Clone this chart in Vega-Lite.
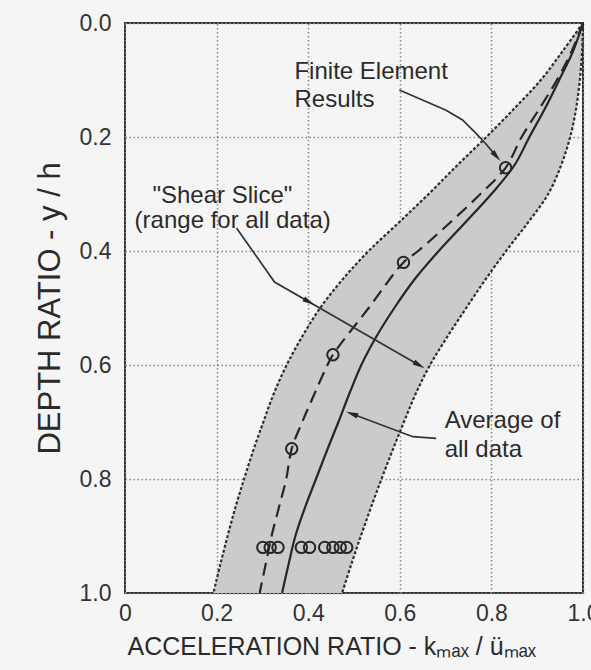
{
  "$schema": "https://vega.github.io/schema/vega-lite/v6.json",
  "width": 458,
  "height": 570,
  "autosize": "none",
  "padding": {"left": 125, "top": 23, "right": 8, "bottom": 77},
  "background": "#f5f5f5",
  "config": {
    "font": "Liberation Sans",
    "view": {"stroke": "#333333", "strokeWidth": 2, "fill": null},
    "axis": {
      "grid": true,
      "gridColor": "#8a8a8a",
      "gridDash": [1.5, 2.5],
      "gridWidth": 1.5,
      "ticks": false,
      "domain": false,
      "labelFont": "Liberation Sans",
      "labelFontSize": 23,
      "labelColor": "#333333",
      "titleFont": "Liberation Sans",
      "titleFontWeight": "normal",
      "titleColor": "#2a2a2a",
      "labelOverlap": false,
      "labelBound": false,
      "labelFlush": false,
      "zindex": 1
    }
  },
  "datasets": {
    "band": [
      {"y": 0.00, "x": 1.0, "x2": 1.0},
      {"y": 0.05, "x": 0.955, "x2": 0.998},
      {"y": 0.10, "x": 0.908, "x2": 0.993},
      {"y": 0.15, "x": 0.85, "x2": 0.985},
      {"y": 0.20, "x": 0.789, "x2": 0.972},
      {"y": 0.25, "x": 0.725, "x2": 0.952},
      {"y": 0.30, "x": 0.663, "x2": 0.924},
      {"y": 0.35, "x": 0.598, "x2": 0.88},
      {"y": 0.40, "x": 0.532, "x2": 0.832},
      {"y": 0.45, "x": 0.475, "x2": 0.787},
      {"y": 0.50, "x": 0.426, "x2": 0.745},
      {"y": 0.55, "x": 0.387, "x2": 0.704},
      {"y": 0.60, "x": 0.353, "x2": 0.666},
      {"y": 0.65, "x": 0.325, "x2": 0.635},
      {"y": 0.70, "x": 0.302, "x2": 0.609},
      {"y": 0.75, "x": 0.28, "x2": 0.584},
      {"y": 0.80, "x": 0.26, "x2": 0.56},
      {"y": 0.85, "x": 0.241, "x2": 0.537},
      {"y": 0.90, "x": 0.224, "x2": 0.515},
      {"y": 0.95, "x": 0.208, "x2": 0.494},
      {"y": 1.00, "x": 0.193, "x2": 0.474}
    ],
    "fe": [
      {"y": 0.0, "x": 1.0},
      {"y": 0.05, "x": 0.975},
      {"y": 0.1, "x": 0.943},
      {"y": 0.15, "x": 0.905},
      {"y": 0.2, "x": 0.866},
      {"y": 0.254, "x": 0.831},
      {"y": 0.3, "x": 0.776},
      {"y": 0.35, "x": 0.71},
      {"y": 0.4, "x": 0.64},
      {"y": 0.42, "x": 0.608},
      {"y": 0.5, "x": 0.532},
      {"y": 0.582, "x": 0.454},
      {"y": 0.6, "x": 0.442},
      {"y": 0.65, "x": 0.414},
      {"y": 0.7, "x": 0.387},
      {"y": 0.747, "x": 0.364},
      {"y": 0.8, "x": 0.352},
      {"y": 0.85, "x": 0.336},
      {"y": 0.9, "x": 0.32},
      {"y": 0.95, "x": 0.307},
      {"y": 1.0, "x": 0.294}
    ],
    "avg": [
      {"y": 0.0, "x": 1.0},
      {"y": 0.05, "x": 0.978},
      {"y": 0.1, "x": 0.948},
      {"y": 0.15, "x": 0.917},
      {"y": 0.2, "x": 0.883},
      {"y": 0.25, "x": 0.85},
      {"y": 0.3, "x": 0.8},
      {"y": 0.35, "x": 0.743},
      {"y": 0.4, "x": 0.685},
      {"y": 0.45, "x": 0.632},
      {"y": 0.5, "x": 0.588},
      {"y": 0.55, "x": 0.549},
      {"y": 0.6, "x": 0.516},
      {"y": 0.65, "x": 0.49},
      {"y": 0.7, "x": 0.466},
      {"y": 0.75, "x": 0.441},
      {"y": 0.8, "x": 0.417},
      {"y": 0.85, "x": 0.393},
      {"y": 0.9, "x": 0.372},
      {"y": 0.95, "x": 0.357},
      {"y": 1.0, "x": 0.343}
    ],
    "circles": [
      {"x": 0.831, "y": 0.254},
      {"x": 0.608, "y": 0.42},
      {"x": 0.454, "y": 0.582},
      {"x": 0.364, "y": 0.747},
      {"x": 0.301, "y": 0.92},
      {"x": 0.317, "y": 0.92},
      {"x": 0.334, "y": 0.92},
      {"x": 0.385, "y": 0.92},
      {"x": 0.403, "y": 0.92},
      {"x": 0.436, "y": 0.92},
      {"x": 0.454, "y": 0.92},
      {"x": 0.47, "y": 0.92},
      {"x": 0.484, "y": 0.92}
    ],
    "leaders": [
      {"g": "fe", "o": 1, "x": 0.599, "y": 0.1175},
      {"g": "fe", "o": 2, "x": 0.701, "y": 0.153},
      {"g": "fe", "o": 3, "x": 0.737, "y": 0.17},
      {"g": "fe", "o": 4, "x": 0.767, "y": 0.194},
      {"g": "fe", "o": 5, "x": 0.79, "y": 0.214},
      {"g": "fe", "o": 6, "x": 0.811, "y": 0.234},
      {"g": "shear", "o": 1, "x": 0.2434, "y": 0.3596},
      {"g": "shear", "o": 2, "x": 0.3264, "y": 0.4544},
      {"g": "shear", "o": 3, "x": 0.6426, "y": 0.6005},
      {"g": "avg", "o": 1, "x": 0.6795, "y": 0.7286},
      {"g": "avg", "o": 2, "x": 0.6284, "y": 0.7258},
      {"g": "avg", "o": 3, "x": 0.4952, "y": 0.6856}
    ],
    "headFe": [{"x": 0.811, "y": 0.234}],
    "headShear": [{"x": 0.402, "y": 0.4895}, {"x": 0.6426, "y": 0.6005}],
    "headAvg": [{"x": 0.4952, "y": 0.6856}],
    "labels": [
      {"t": "Finite Element", "x": 0.37, "y": 0.086},
      {"t": "Results", "x": 0.37, "y": 0.135},
      {"t": "\"Shear Slice\"", "x": 0.06, "y": 0.304},
      {"t": "(range for all data)", "x": 0.021, "y": 0.347},
      {"t": "Average of", "x": 0.698, "y": 0.699},
      {"t": "all data", "x": 0.698, "y": 0.749}
    ]
  },
  "encoding": {
    "x": {
      "field": "x",
      "type": "quantitative",
      "scale": {"domain": [0, 1], "nice": false, "zero": false},
      "axis": {
        "values": [0, 0.2, 0.4, 0.6, 0.8, 1.0],
        "labelExpr": "datum.value == 0 ? '0' : format(datum.value, '.1f')",
        "labelPadding": 9,
        "title": "ACCELERATION RATIO -  kₘₐₓ / üₘₐₓ",
        "titleFontSize": 25,
        "titlePadding": 9,
        "titleAnchor": "start",
        "titleX": 2
      }
    },
    "y": {
      "field": "y",
      "type": "quantitative",
      "scale": {"domain": [0, 1], "nice": false, "zero": false, "reverse": true},
      "axis": {
        "values": [0, 0.2, 0.4, 0.6, 0.8, 1.0],
        "format": ".1f",
        "labelPadding": 14,
        "title": "DEPTH RATIO - y / h",
        "titleFontSize": 31,
        "titlePadding": 13
      }
    }
  },
  "layer": [
    {
      "data": {"name": "band"},
      "mark": {"type": "area", "orient": "horizontal", "color": "#cbcbcb", "opacity": 1, "interpolate": "monotone"},
      "encoding": {
        "x": {"field": "x", "type": "quantitative"},
        "x2": {"field": "x2"},
        "y": {"field": "y", "type": "quantitative"}
      }
    },
    {
      "data": {"name": "band"},
      "mark": {"type": "line", "stroke": "#2e2e2e", "strokeWidth": 2.2, "strokeDash": [3, 2], "interpolate": "catmull-rom"},
      "encoding": {"order": {"field": "y", "type": "quantitative"}}
    },
    {
      "data": {"name": "band"},
      "mark": {"type": "line", "stroke": "#2e2e2e", "strokeWidth": 2.2, "strokeDash": [3, 2], "interpolate": "catmull-rom"},
      "encoding": {"x": {"field": "x2", "type": "quantitative"}, "order": {"field": "y", "type": "quantitative"}}
    },
    {
      "data": {"name": "fe"},
      "mark": {"type": "line", "stroke": "#262626", "strokeWidth": 2.2, "strokeDash": [13, 7], "interpolate": "catmull-rom"},
      "encoding": {"order": {"field": "y", "type": "quantitative"}}
    },
    {
      "data": {"name": "avg"},
      "mark": {"type": "line", "stroke": "#262626", "strokeWidth": 2.2, "interpolate": "catmull-rom"},
      "encoding": {"order": {"field": "y", "type": "quantitative"}}
    },
    {
      "data": {"name": "circles"},
      "mark": {"type": "point", "shape": "circle", "filled": false, "stroke": "#262626", "strokeWidth": 2, "size": 130, "opacity": 1}
    },
    {
      "data": {"name": "leaders"},
      "mark": {"type": "line", "stroke": "#333333", "strokeWidth": 1.7},
      "encoding": {"detail": {"field": "g"}, "order": {"field": "o", "type": "quantitative"}}
    },
    {
      "data": {"name": "headFe"},
      "mark": {"type": "point", "shape": "M0,-1L0.45,1L-0.45,1Z", "filled": true, "fill": "#262626", "stroke": null, "size": 150, "angle": 139.5, "opacity": 1}
    },
    {
      "data": {"name": "headShear"},
      "mark": {"type": "point", "shape": "M0,-1L0.45,1L-0.45,1Z", "filled": true, "fill": "#262626", "stroke": null, "size": 150, "angle": 120, "opacity": 1}
    },
    {
      "data": {"name": "headAvg"},
      "mark": {"type": "point", "shape": "M0,-1L0.45,1L-0.45,1Z", "filled": true, "fill": "#262626", "stroke": null, "size": 150, "angle": 290.6, "opacity": 1}
    },
    {
      "data": {"name": "labels"},
      "mark": {"type": "text", "align": "left", "baseline": "middle", "font": "Liberation Sans", "fontSize": 24, "fill": "#2b2b2b"},
      "encoding": {"text": {"field": "t"}}
    }
  ]
}
